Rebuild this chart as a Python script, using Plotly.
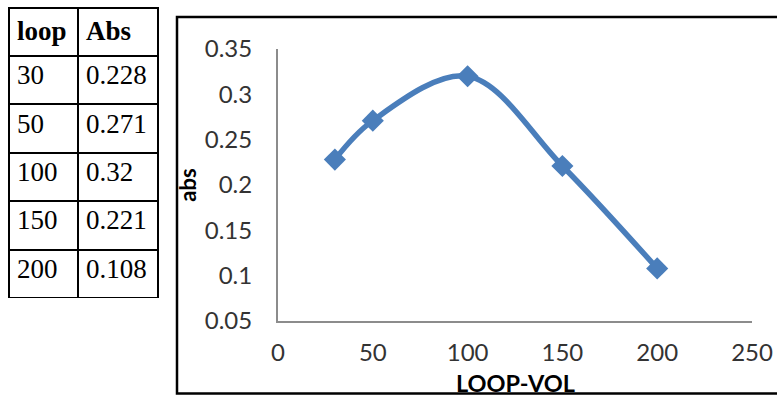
import plotly.graph_objects as go

# Loop volume vs absorbance
loop = [30, 50, 100, 150, 200]
absorb = [0.228, 0.271, 0.32, 0.221, 0.108]
table_headers = ["loop", "Abs"]
loop_text = ["30", "50", "100", "150", "200"]
abs_text = ["0.228", "0.271", "0.32", "0.221", "0.108"]
x_title = "LOOP-VOL"
y_title = "abs"

W, H = 777, 396


def px_x(v):
    return v / W


def px_y(v):
    return 1 - v / H


fig = go.Figure()

# data table on the left
fig.add_trace(go.Table(
    domain=dict(x=[px_x(9), px_x(158)], y=[px_y(298), px_y(8)]),
    columnwidth=[69, 80],
    header=dict(
        values=[f"<b>{h}</b>" for h in table_headers],
        height=48,
        align="left",
        line=dict(color="black", width=2),
        fill=dict(color="white"),
        font=dict(family="Liberation Serif", size=27, color="black"),
    ),
    cells=dict(
        values=[loop_text, abs_text],
        height=48.4,
        align="left",
        line=dict(color="black", width=2),
        fill=dict(color="white"),
        font=dict(family="Liberation Serif", size=27, color="black"),
    ),
))

# smoothed line with diamond markers
fig.add_trace(go.Scatter(
    x=loop, y=absorb,
    mode="lines+markers",
    line=dict(color="#4A7EBB", width=5.5, shape="spline", smoothing=1),
    marker=dict(symbol="diamond", size=17, color="#4A7EBB"),
    showlegend=False,
))

tick_font = dict(family="Lato", size=24, color="#333333")

fig.update_layout(
    width=W, height=H,
    margin=dict(l=0, r=0, t=0, b=0, pad=0, autoexpand=False),
    showlegend=False,
    paper_bgcolor="white",
    plot_bgcolor="white",
    xaxis=dict(
        domain=[px_x(278), px_x(752)],
        range=[0, 250],
        automargin=False,
        tickmode="linear", tick0=0, dtick=50,
        showgrid=False, zeroline=False,
        showline=True, linecolor="#8C8C8C", linewidth=2,
        ticks="", ticklabelstandoff=9,
        tickfont=tick_font,
    ),
    yaxis=dict(
        domain=[px_y(321), px_y(49)],
        range=[0.05, 0.35],
        automargin=False,
        tickmode="linear", tick0=0.05, dtick=0.05,
        showgrid=False, zeroline=False,
        showline=True, linecolor="#8C8C8C", linewidth=2,
        ticks="", ticklabelstandoff=19,
        tickfont=tick_font,
        title=dict(text=f"<b>{y_title}</b>", standoff=2,
                   font=dict(family="Lato", size=22, color="black")),
    ),
    annotations=[dict(
        text=f"<b>{x_title}</b>", xref="paper", yref="paper",
        x=px_x(515), y=px_y(382.5), xanchor="center", yanchor="middle",
        showarrow=False, borderpad=0,
        font=dict(family="Lato", size=23.5, color="black"),
    )],
    shapes=[dict(
        type="rect", xref="paper", yref="paper",
        x0=px_x(177), x1=px_x(790), y0=px_y(393.5), y1=px_y(17),
        line=dict(color="black", width=2.5),
        fillcolor="rgba(0,0,0,0)", layer="below",
    )],
)

fig.write_html("out.html")
